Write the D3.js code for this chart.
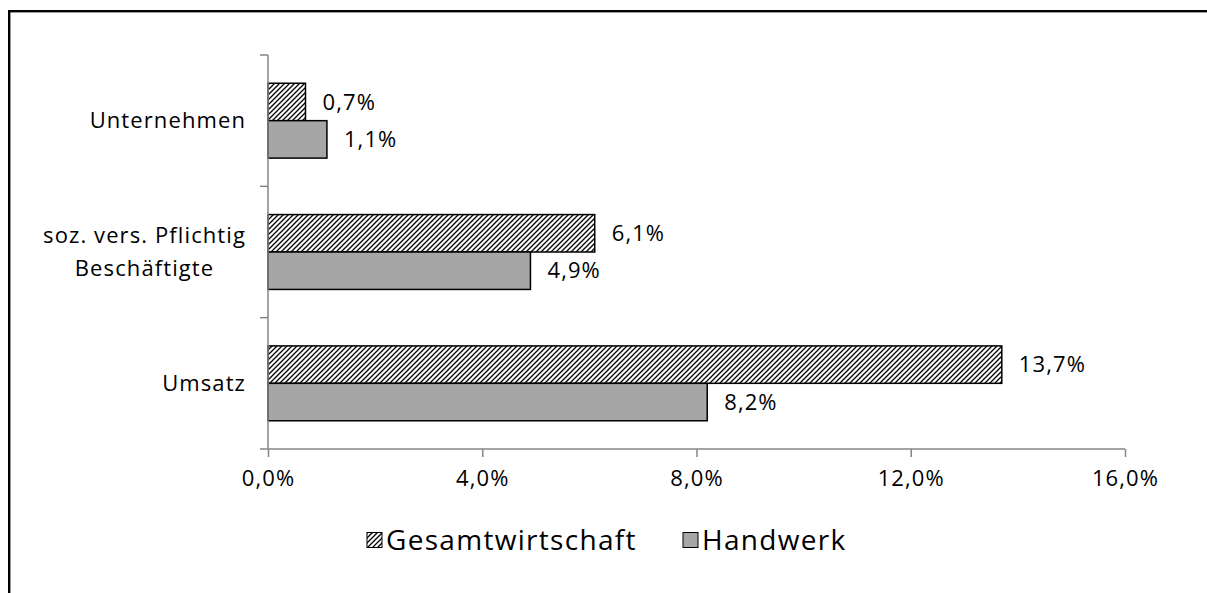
<!DOCTYPE html>
<html>
<head>
<meta charset="utf-8">
<script src="https://cdn.jsdelivr.net/npm/d3@7"></script>
<style>
  body { margin: 0; background: #fff; }
  text { font-family: "Open Sans", sans-serif; fill: #000; }
</style>
</head>
<body>
<div id="chart"></div>
<script>
var categories = [["Unternehmen"], ["soz. vers. Pflichtig", "Beschäftigte"], ["Umsatz"]];
var seriesNames = ["Gesamtwirtschaft", "Handwerk"];
var gesamt = [0.7, 6.1, 13.7];
var handwerk = [1.1, 4.9, 8.2];
var xTicks = [0, 4, 8, 12, 16];

var W = 1207, H = 593;
var margin = {top: 55, left: 268, right: 82, bottom: 144};
var width = W - margin.left - margin.right,
    height = H - margin.top - margin.bottom;

var labelFont = "22px", labelSpacing = "1.1px";

var svg = d3.select("#chart").append("svg").attr("width", W).attr("height", H);

// hatch pattern
var pat = svg.append("defs").append("pattern")
    .attr("id", "hatch")
    .attr("patternUnits", "userSpaceOnUse")
    .attr("width", 5).attr("height", 5);
pat.append("rect").attr("width", 5).attr("height", 5).attr("fill", "#fff");
pat.append("path")
    .attr("d", "M-1,1 l2,-2 M0,5 l5,-5 M4,6 l2,-2")
    .attr("stroke", "#000").attr("stroke-width", 1.3);

// outer border (cut off at right and bottom)
svg.append("rect")
    .attr("x", 9.2).attr("y", 11.2)
    .attr("width", 1400).attr("height", 800)
    .attr("fill", "none").attr("stroke", "#000").attr("stroke-width", 2.4);

var x = d3.scaleLinear().domain([0, 16]).range([0, width]);
var y = d3.scaleBand().domain(d3.range(categories.length)).range([0, height]);

var g = svg.append("g").attr("transform", "translate(" + margin.left + "," + margin.top + ")");

var fmt = function(v) { return v.toFixed(1).replace(".", ",") + "%"; };

var barH = y.bandwidth() * 0.285;

var series = [
  {name: seriesNames[0], values: gesamt, fill: "url(#hatch)", off: -barH},
  {name: seriesNames[1], values: handwerk, fill: "#a6a6a6", off: 0}
];

series.forEach(function(s) {
  g.selectAll(null).data(s.values).enter().append("rect")
      .attr("x", 0)
      .attr("y", function(d, i) { return y(i) + y.bandwidth() / 2 + s.off; })
      .attr("width", function(d) { return x(d); })
      .attr("height", barH)
      .attr("fill", s.fill)
      .attr("stroke", "#000")
      .attr("stroke-width", 1.5);

  g.selectAll(null).data(s.values).enter().append("text")
      .attr("x", function(d) { return x(d) + 17; })
      .attr("y", function(d, i) { return y(i) + y.bandwidth() / 2 + s.off + barH / 2; })
      .attr("dy", "0.35em")
      .style("font-size", labelFont)
      .style("letter-spacing", labelSpacing)
      .text(fmt);
});

// axes
var axisColor = "#868686";
var xAxis = g.append("g")
    .attr("transform", "translate(0," + height + ")")
    .call(d3.axisBottom(x).tickValues(xTicks).tickSize(8).tickPadding(13).tickFormat(fmt));
xAxis.select(".domain").attr("stroke", axisColor).attr("stroke-width", 1.5).attr("d", "M0,0H" + width);
xAxis.selectAll(".tick line").attr("stroke", axisColor).attr("stroke-width", 1.5);
xAxis.selectAll(".tick text").attr("font-family", null).style("font-size", labelFont).style("letter-spacing", labelSpacing);

var yAxis = g.append("g");
yAxis.append("path").attr("d", "M0,0V" + height).attr("stroke", axisColor).attr("stroke-width", 1.5);
yAxis.selectAll(null).data(d3.range(categories.length + 1)).enter().append("line")
    .attr("x1", -8).attr("x2", 0)
    .attr("y1", function(i) { return i * y.step(); })
    .attr("y2", function(i) { return i * y.step(); })
    .attr("stroke", axisColor).attr("stroke-width", 1.5);

// category labels
categories.forEach(function(lines, i) {
  var cy = y(i) + y.bandwidth() / 2;
  var t = g.append("g");
  var items = lines.map(function(l, k) {
    return t.append("text")
        .attr("y", cy + (k - (lines.length - 1) / 2) * 33)
        .attr("dy", "0.35em")
        .style("font-size", labelFont)
        .style("letter-spacing", labelSpacing)
        .attr("text-anchor", "middle")
        .text(l);
  });
  var maxW = d3.max(items, function(e) { return e.node().getComputedTextLength(); });
  items.forEach(function(e) { e.attr("x", -22 - maxW / 2); });
});

// legend
var legend = svg.append("g").attr("transform", "translate(0,540)");
var legX = [367, 683];
series.forEach(function(s, i) {
  legend.append("rect")
      .attr("x", legX[i]).attr("y", -7.5)
      .attr("width", 15).attr("height", 15)
      .attr("fill", s.fill)
      .attr("stroke", "#000").attr("stroke-width", 1);
  legend.append("text")
      .attr("x", legX[i] + 19).attr("y", 0)
      .attr("dy", "0.35em")
      .style("font-size", "28px")
      .style("letter-spacing", "1.3px")
      .text(s.name);
});
</script>
</body>
</html>
